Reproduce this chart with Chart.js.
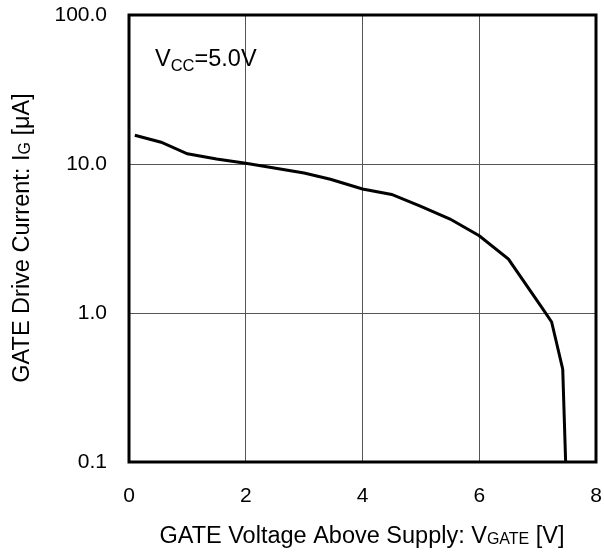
<!DOCTYPE html>
<html>
<head>
<meta charset="utf-8">
<script src="https://cdn.jsdelivr.net/npm/chart.js@4"></script>
<style>
  html, body { margin: 0; padding: 0; background: #fff; }
  #wrap { width: 604px; height: 555px; }
</style>
</head>
<body>
<div id="wrap"><canvas id="gateChart" width="604" height="555"></canvas></div>
<script>
// GATE電流 vs GATE電圧 (VCC=5.0V)
const vGate = [0.1, 0.55, 1.0, 1.5, 2.0, 3.0, 3.45, 4.0, 4.5, 5.0, 5.5, 6.0, 6.5, 7.1, 7.24, 7.43, 7.48];
const iGate = [15.6, 14.0, 11.7, 10.8, 10.1, 8.7, 7.9, 6.8, 6.25, 5.2, 4.27, 3.3, 2.3, 1.05, 0.87, 0.42, 0.1];

const xTicks = [0, 2, 4, 6, 8];
const yTicks = [0.1, 1, 10, 100];

const FONT = 'Arial, "Liberation Sans", sans-serif';

/**
 * 枠線と軸タイトル（下付き文字あり）を描く
 */
const framePlugin = {
    id: 'frame',
    afterDraw(chart) {
        const ctx = chart.ctx;
        const a = chart.chartArea;
        ctx.save();
        ctx.strokeStyle = '#000';
        ctx.lineWidth = 3;
        ctx.strokeRect(a.left, a.top, a.right - a.left, a.bottom - a.top);

        ctx.fillStyle = '#000';
        ctx.textBaseline = 'alphabetic';

        // 注記 VCC=5.0V
        drawSub(ctx, 'V', 'CC', '=5.0V', 155, 66, 23.5, 16.5, 5);

        // X軸タイトル
        const xw = measureSub(ctx, 'GATE Voltage Above Supply: V', 'GATE', ' [V]', 23.5, 16);
        drawSub(ctx, 'GATE Voltage Above Supply: V', 'GATE', ' [V]', 362 - xw / 2, 543, 23.5, 16, 1);

        // Y軸タイトル
        ctx.translate(29, 238);
        ctx.rotate(-Math.PI / 2);
        const yw = measureSub(ctx, 'GATE Drive Current: I', 'G', ' [μA]', 23.5, 16);
        drawSub(ctx, 'GATE Drive Current: I', 'G', ' [μA]', -yw / 2, 0, 23.5, 16, 1);
        ctx.restore();
    }
};

function measureSub(ctx, a, sub, b, size, subSize) {
    ctx.font = size + 'px ' + FONT;
    let w = ctx.measureText(a).width + ctx.measureText(b).width;
    ctx.font = subSize + 'px ' + FONT;
    return w + ctx.measureText(sub).width;
}

function drawSub(ctx, a, sub, b, x, y, size, subSize, drop) {
    ctx.textAlign = 'left';
    ctx.font = size + 'px ' + FONT;
    ctx.fillText(a, x, y);
    x += ctx.measureText(a).width;
    ctx.font = subSize + 'px ' + FONT;
    ctx.fillText(sub, x, y + drop);
    x += ctx.measureText(sub).width;
    ctx.font = size + 'px ' + FONT;
    ctx.fillText(b, x, y);
}

const ctx = document.getElementById('gateChart').getContext('2d');
const gateChart = new Chart(ctx, {
    type: 'line',
    data: {
        datasets: [{
            data: vGate.map((v, i) => ({ x: v, y: iGate[i] })),
            borderColor: '#000',
            borderWidth: 3,
            pointRadius: 0,
            tension: 0,
            fill: false
        }]
    },
    options: {
        responsive: false,
        animation: false,
        layout: { padding: { top: 15, right: 8, left: 0, bottom: 0 } },
        plugins: {
            legend: { display: false },
            tooltip: { enabled: false }
        },
        scales: {
            x: {
                type: 'linear',
                min: 0,
                max: 8,
                afterBuildTicks: s => { s.ticks = xTicks.map(v => ({ value: v })); },
                afterFit: s => {
                    s.height = 93;
                    s.paddingLeft = 0;
                    s.paddingRight = 0;
                },
                grid: { color: '#555', lineWidth: 1, drawTicks: false },
                border: { display: false },
                ticks: {
                    color: '#000',
                    font: { family: FONT, size: 21 },
                    padding: 22,
                    maxRotation: 0
                }
            },
            y: {
                type: 'logarithmic',
                min: 0.1,
                max: 100,
                afterBuildTicks: s => { s.ticks = yTicks.map(v => ({ value: v })); },
                afterFit: s => {
                    s.width = 129;
                    s.paddingTop = 0;
                    s.paddingBottom = 0;
                },
                grid: { color: '#555', lineWidth: 1, drawTicks: false },
                border: { display: false },
                ticks: {
                    color: '#000',
                    font: { family: FONT, size: 21 },
                    padding: 22,
                    callback: v => Number(v).toFixed(1)
                }
            }
        }
    },
    plugins: [framePlugin]
});
</script>
</body>
</html>
